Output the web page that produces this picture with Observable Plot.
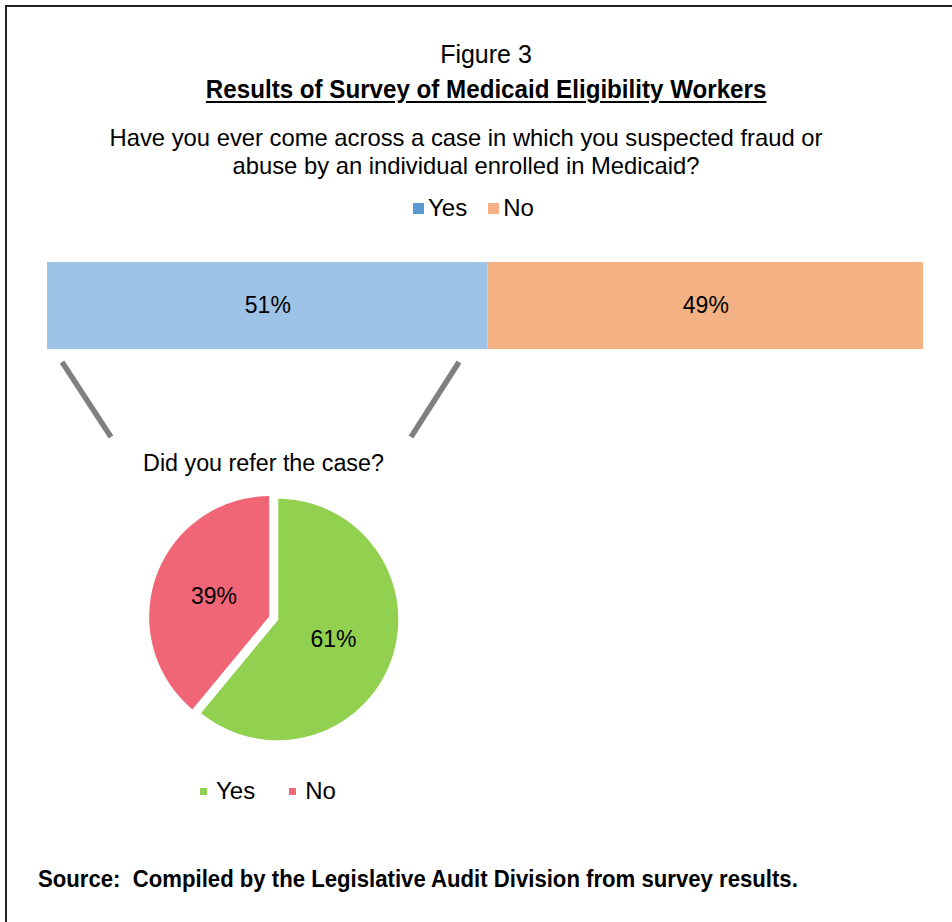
<!DOCTYPE html>
<html><head><meta charset="utf-8">
<script src="https://cdn.jsdelivr.net/npm/d3@7"></script>
<script src="https://cdn.jsdelivr.net/npm/@observablehq/plot@0.6"></script>
<style>
html,body{margin:0;padding:0;background:#fff;}
#page{position:relative;width:952px;height:922px;overflow:hidden;font-family:"Liberation Sans",Arial,sans-serif;color:#000;}
.abs{position:absolute;white-space:pre;}
.center{text-align:center;}
.sq{display:inline-block;}
</style></head><body><div id="page"></div>
<script>
// ---- data ----
const figureLabel = "Figure 3";
const titleText = "Results of Survey of Medicaid Eligibility Workers";
const questionLines = ["Have you ever come across a case in which you suspected fraud or", "abuse by an individual enrolled in Medicaid?"];
const pieQuestion = "Did you refer the case?";
const sourceText = "Source:  Compiled by the Legislative Audit Division from survey results.";
const answers = ["Yes", "No"];
const suspectedValues = [50.3, 49.7];      // bar lengths as drawn
const suspectedLabels = ["51%", "49%"];    // labels as printed
const referredValues = [61, 39];
const referredLabels = ["61%", "39%"];
const barColors = ["#9DC3E6", "#F4B183"];
const barLegendColors = ["#5B9BD5", "#F4B183"];
const pieColors = ["#92D050", "#F06676"];

const page = document.getElementById("page");
function addDiv(html, css, cls) {
  const d = document.createElement("div");
  d.className = "abs " + (cls || "");
  d.style.cssText = css;
  d.innerHTML = html;
  page.appendChild(d);
  return d;
}

// frame lines (top and left)
addDiv("", "left:5px;top:5px;width:947px;height:2px;background:#222;");
addDiv("", "left:5px;top:5px;width:2px;height:917px;background:#222;");

// titles
addDiv(figureLabel, "left:0;width:972px;top:42px;font-size:25px;line-height:25px;", "center");
addDiv(`<span style="display:inline-block;transform:scaleX(0.966);text-decoration:underline;text-underline-offset:3px;">${titleText}</span>`, "left:0;width:972px;top:77px;font-size:25px;line-height:25px;font-weight:bold;", "center");
addDiv(questionLines.join("\n"), "left:0;width:932px;top:124px;font-size:23.8px;line-height:28px;", "center");

// legends
function legend(items, colors, sqSize, left, top, fontSize, gap, sqGap) {
  const d = addDiv("", `left:${left}px;top:${top}px;font-size:${fontSize}px;line-height:${fontSize}px;display:flex;align-items:center;`);
  items.forEach((t, i) => {
    const s = document.createElement("span");
    s.style.cssText = `display:inline-flex;align-items:center;margin-right:${i < items.length - 1 ? gap : 0}px;`;
    s.innerHTML = `<span class="sq" style="width:${sqSize}px;height:${sqSize}px;background:${colors[i]};margin-right:${sqGap}px;"></span>${t}`;
    d.appendChild(s);
  });
  return d;
}
legend(answers, barLegendColors, 11, 413, 196, 24, 21, 4);

// bar chart
const barData = answers.map((a, i) => ({answer: a, value: suspectedValues[i], label: suspectedLabels[i]}));
const bar = Plot.plot({
  width: 876, height: 87, margin: 0,
  x: {domain: [0, 100], axis: null},
  y: {axis: null},
  color: {domain: answers, range: barColors},
  style: {fontFamily: "Liberation Sans, Arial, sans-serif", background: "transparent", overflow: "visible"},
  marks: [
    Plot.barX(barData, {x: "value", fill: "answer"}),
    Plot.text(barData, Plot.stackX({x: "value", text: "label", fontSize: 23, fill: "#000"}))
  ]
});
bar.style.position = "absolute"; bar.style.left = "47px"; bar.style.top = "262px";
page.appendChild(bar);

// connector lines (decorative)
const ns = "http://www.w3.org/2000/svg";
const conn = document.createElementNS(ns, "svg");
conn.setAttribute("width", 952); conn.setAttribute("height", 922);
conn.style.cssText = "position:absolute;left:0;top:0;pointer-events:none;";
[[62, 362, 111, 437], [459, 362, 411, 437]].forEach(([x1, y1, x2, y2]) => {
  const l = document.createElementNS(ns, "line");
  l.setAttribute("x1", x1); l.setAttribute("y1", y1); l.setAttribute("x2", x2); l.setAttribute("y2", y2);
  l.setAttribute("stroke", "#808080"); l.setAttribute("stroke-width", 5.5);
  conn.appendChild(l);
});
page.appendChild(conn);

// pie question
addDiv(pieQuestion, "left:0;width:527px;top:452px;font-size:23.3px;line-height:23px;", "center");

// pie chart
const arcs = d3.pie().sort(null)(referredValues);
const explode = [0, 0.066];
const slices = arcs.map((a, i) => {
  const mid = (a.startAngle + a.endAngle) / 2;
  const ox = Math.sin(mid) * explode[i], oy = Math.cos(mid) * explode[i];
  const pts = [[ox, oy]];
  const n = 180;
  for (let k = 0; k <= n; k++) {
    const t = a.startAngle + (a.endAngle - a.startAngle) * k / n;
    pts.push([ox + Math.sin(t), oy + Math.cos(t)]);
  }
  pts.push([ox, oy]);
  return {pts, lx: ox + Math.sin(mid) * 0.49, ly: oy + Math.cos(mid) * 0.49, text: referredLabels[i]};
});
const pie = Plot.plot({
  width: 260, height: 260, margin: 0,
  x: {domain: [-1.07, 1.07], axis: null},
  y: {domain: [-1.07, 1.07], axis: null},
  style: {fontFamily: "Liberation Sans, Arial, sans-serif", background: "transparent", overflow: "visible"},
  marks: [
    ...slices.map((s, i) => Plot.line(s.pts, {x: d => d[0], y: d => d[1], fill: pieColors[i], stroke: "#fff", strokeWidth: 1.5, curve: "linear"})),
    Plot.text(slices, {x: "lx", y: "ly", text: "text", fontSize: 23, fill: "#000"})
  ]
});
pie.style.position = "absolute"; pie.style.left = "146.5px"; pie.style.top = "488.5px";
page.appendChild(pie);

// pie legend
legend(answers, pieColors, 7, 200, 779, 24, 34, 9);

// source
addDiv(`<span style="display:inline-block;transform:scaleX(0.963);transform-origin:0 50%;">${sourceText}</span>`, "left:38px;top:868px;font-size:23px;line-height:23px;font-weight:bold;");
</script>
</body></html>
